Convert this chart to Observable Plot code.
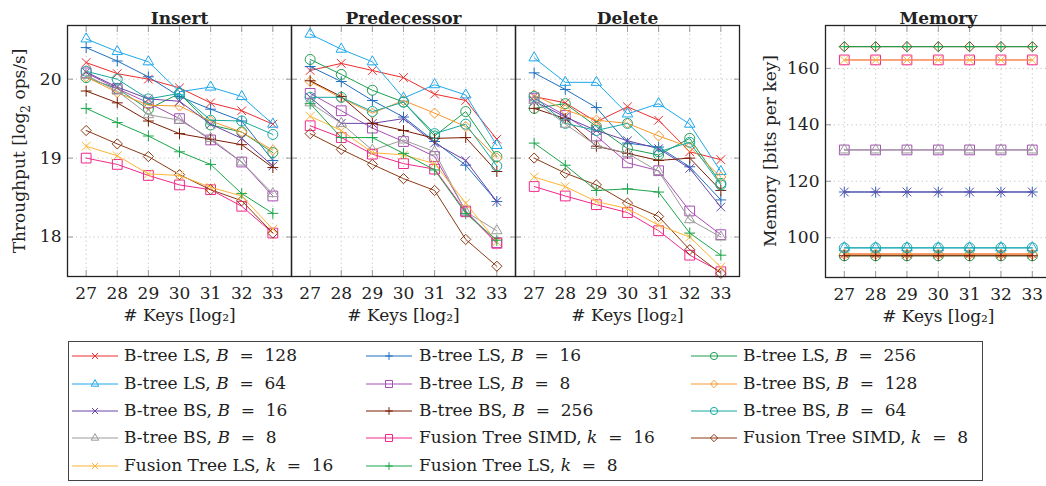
<!DOCTYPE html>
<html><head><meta charset="utf-8">
<script src="https://cdn.jsdelivr.net/npm/d3@7"></script>
<script src="https://cdn.jsdelivr.net/npm/@observablehq/plot@0.6"></script>
<style>
body{margin:0;background:#fff;}
#wrap{position:relative;width:1046px;height:486px;overflow:hidden;font-family:"DejaVu Serif",serif;color:#222;background:#fff;}
.abs{position:absolute;}
.vlab{position:absolute;white-space:nowrap;font-size:17px;transform:translate(-50%,-50%) rotate(-90deg);}
.leg{position:absolute;left:68px;top:341px;width:913px;height:138px;border:1.3px solid #444;}
.item{position:absolute;white-space:nowrap;font-size:17px;line-height:20px;}
</style></head><body><div id="wrap"></div>
<script>
const FONT = '"DejaVu Serif", serif';
const keys = [27, 28, 29, 30, 31, 32, 33];
const panels = ["Insert", "Predecessor", "Delete"];
const seriesNames = ["LS128","LS16","LS256","LS64","LS8","BS128","BS16","BS256","BS64","BS8","SIMD16","SIMD8","FTLS16","FTLS8"];
const structNames = ["B-tree LS","B-tree LS","B-tree LS","B-tree LS","B-tree LS","B-tree BS","B-tree BS","B-tree BS","B-tree BS","B-tree BS","Fusion Tree SIMD","Fusion Tree SIMD","Fusion Tree LS","Fusion Tree LS"];
const paramNames = ["B","B","B","B","B","B","B","B","B","B","k","k","k","k"];
const paramValues = [128,16,256,64,8,128,16,256,64,8,16,8,16,8];
const colors = ["#ee2d2d","#1f6fbf","#1e9e50","#1ea8ec","#a64fb5","#f7992e","#6a45a8","#7b1d05","#17a9a0","#9b9b9b","#f0288c","#8b3a16","#fdb537","#1aa64a"];
const symbols = ["times","plus","circle","triangle2","square2","diamond2","times","plus","circle","triangle2","square2","diamond2","times","plus"];
const symbolR = {times:4, plus:3.6, circle:5, triangle2:5, square2:6.2, diamond2:4.6};

// throughput [log2 ops/s], rows in series order, columns = keys
const insertThroughput = [
  [20.21,20.07,20.00,19.89,19.70,19.60,19.43],
  [20.40,20.23,20.03,19.78,19.62,19.47,18.97],
  [20.02,19.88,19.62,19.82,19.42,19.33,19.07],
  [20.51,20.35,20.22,19.84,19.90,19.78,19.43],
  [20.08,19.88,19.70,19.50,19.23,18.95,18.52],
  [20.03,19.83,19.67,19.66,19.47,19.33,19.10],
  [20.09,19.90,19.75,19.72,19.43,19.25,18.90],
  [19.85,19.70,19.47,19.31,19.24,19.17,18.88],
  [20.10,20.00,19.75,19.82,19.48,19.47,19.30],
  [20.05,19.85,19.55,19.48,19.25,18.95,18.55],
  [19.00,18.92,18.78,18.66,18.60,18.39,18.05],
  [19.35,19.18,19.02,18.79,18.60,18.46,18.05],
  [19.15,19.03,18.80,18.78,18.63,18.52,18.10],
  [19.63,19.45,19.28,19.08,18.92,18.55,18.30]
];
const predecessorThroughput = [
  [20.11,20.20,20.11,20.02,19.81,19.73,19.24],
  [20.16,19.97,19.73,19.52,19.21,18.91,18.45],
  [20.25,20.06,19.86,19.71,19.28,19.59,19.02],
  [20.57,20.38,20.22,19.76,19.93,19.80,19.16],
  [19.82,19.60,19.38,19.21,19.02,18.33,17.93],
  [19.97,19.76,19.57,19.73,19.57,19.40,19.00],
  [19.77,19.44,19.44,19.50,19.19,18.97,18.45],
  [19.98,19.78,19.44,19.35,19.25,19.26,18.83],
  [19.77,19.77,19.59,19.71,19.31,19.43,18.90],
  [19.70,19.44,19.10,19.23,19.08,18.32,18.08],
  [19.41,19.26,19.05,18.93,18.86,18.32,17.92],
  [19.31,19.11,18.92,18.74,18.59,17.97,17.63],
  [19.53,19.35,19.07,19.04,18.93,18.43,17.94],
  [19.69,19.26,19.26,19.06,18.85,18.30,17.96]
];
const deleteThroughput = [
  [19.78,19.70,19.46,19.65,19.48,19.08,18.98],
  [20.08,19.87,19.64,19.19,19.14,18.89,18.47],
  [19.63,19.69,19.40,19.12,19.04,19.25,18.68],
  [20.27,19.96,19.96,19.56,19.69,19.43,18.83],
  [19.76,19.54,19.28,18.94,18.84,18.33,18.03],
  [19.80,19.61,19.48,19.44,19.28,19.14,18.76],
  [19.72,19.52,19.35,19.22,19.12,18.87,18.38],
  [19.63,19.50,19.15,19.06,18.97,19.00,18.59],
  [19.78,19.44,19.35,19.44,19.08,19.20,18.66],
  [19.73,19.43,19.16,19.06,18.83,18.22,18.00],
  [18.64,18.52,18.41,18.31,18.08,17.77,17.56],
  [19.00,18.81,18.66,18.43,18.26,17.84,17.54],
  [18.76,18.64,18.45,18.36,18.15,18.00,17.62],
  [19.19,18.91,18.59,18.61,18.57,18.05,17.77]
];
// memory [bits per key]
const memoryBits = [
  [94.2,94.2,94.2,94.2,94.2,94.2,94.2],
  [116.2,116.2,116.2,116.2,116.2,116.2,116.2],
  [93.6,93.6,93.6,93.6,93.6,93.6,93.6],
  [96.4,96.4,96.4,96.4,96.4,96.4,96.4],
  [131.1,131.1,131.1,131.1,131.1,131.1,131.1],
  [94.2,94.2,94.2,94.2,94.2,94.2,94.2],
  [116.2,116.2,116.2,116.2,116.2,116.2,116.2],
  [93.6,93.6,93.6,93.6,93.6,93.6,93.6],
  [96.4,96.4,96.4,96.4,96.4,96.4,96.4],
  [131.1,131.1,131.1,131.1,131.1,131.1,131.1],
  [163.0,163.0,163.0,163.0,163.0,163.0,163.0],
  [167.7,167.7,167.7,167.7,167.7,167.7,167.7],
  [163.0,163.0,163.0,163.0,163.0,163.0,163.0],
  [167.7,167.7,167.7,167.7,167.7,167.7,167.7]
];
const throughputTicks = [18, 19, 20];
const memoryTicks = [100, 120, 140, 160];

const wrap = document.getElementById("wrap");
const panelData = [insertThroughput, predecessorThroughput, deleteThroughput];
const rows = [];
panels.forEach((p, pi) => seriesNames.forEach((s, si) => keys.forEach((k, ki) =>
  rows.push({panel: p, series: s, key: k, value: panelData[pi][si][ki], r: symbolR[symbols[si]]}))));
const memRows = [];
seriesNames.forEach((s, si) => keys.forEach((k, ki) =>
  memRows.push({series: s, key: k, value: memoryBits[si][ki], r: symbolR[symbols[si]]})));

const common = {
  color: {domain: seriesNames, range: colors},
  symbol: {domain: seriesNames, range: symbols},
  r: {type: "identity"}
};
const gridStyle = {stroke: "#bdbdbd", strokeOpacity: 1, strokeDasharray: "1.2,3.2", strokeWidth: 0.9};
const tickStyle = {stroke: "#999", strokeOpacity: 1, strokeWidth: 1, tickFormat: () => "", tickSize: -6, label: null};
const fmt = d3.format("d");

function seriesMarks(data, fx) {
  const out = [];
  seriesNames.forEach(s => {
    const d = data.filter(r => r.series === s);
    out.push(Plot.line(d, {fx, x: "key", y: "value", stroke: "series", strokeWidth: 1}));
    out.push(Plot.dot(d, {fx, x: "key", y: "value", stroke: "series", symbol: "series", r: "r", fill: "none", strokeWidth: 1}));
  });
  return out;
}

const tp = Plot.plot({
  width: 745, height: 340,
  marginLeft: 66, marginRight: 5, marginTop: 25, marginBottom: 64,
  style: {fontFamily: FONT, fontSize: "17px", color: "#222", background: "transparent", overflow: "visible"},
  fx: {domain: panels, padding: 0, axis: null},
  x: {domain: [26.4, 33.6]},
  y: {domain: [17.5, 20.68]},
  ...common,
  marks: [
    Plot.gridX(keys, {...gridStyle}),
    Plot.gridY(throughputTicks, {...gridStyle}),
    Plot.axisX(keys, {anchor: "bottom", ...tickStyle, facetAnchor: null}),
    Plot.axisX(keys, {anchor: "top", ...tickStyle, facetAnchor: null}),
    Plot.axisY(throughputTicks, {anchor: "left", ...tickStyle, facetAnchor: null}),
    Plot.axisY(throughputTicks, {anchor: "right", ...tickStyle, facetAnchor: null}),
    ...seriesMarks(rows, "panel"),
    Plot.frame({stroke: "#222", strokeWidth: 1.3}),
    Plot.axisX(keys, {anchor: "bottom", tickSize: 0, tickPadding: 10, label: null, fontSize: 17, tickFormat: fmt}),
    Plot.axisY(throughputTicks, {anchor: "left", tickSize: 0, tickPadding: 6, label: null, fontSize: 17, tickFormat: fmt}),
    Plot.text(panels, {fx: d => d, text: d => d, frameAnchor: "top", dy: -14, fontWeight: "bold", fontSize: 17}),
    Plot.text(panels, {fx: d => d, text: () => "# Keys [log₂]", frameAnchor: "bottom", dy: 44, fontSize: 17})
  ]
});
tp.style.position = "absolute"; tp.style.left = "0px"; tp.style.top = "0px";
wrap.appendChild(tp);

const mp = Plot.plot({
  width: 310, height: 340,
  marginLeft: 80, marginRight: 4.4, marginTop: 25, marginBottom: 63,
  style: {fontFamily: FONT, fontSize: "17px", color: "#222", background: "transparent", overflow: "visible"},
  x: {domain: [26.4, 33.6]},
  y: {domain: [85.9, 175.2]},
  ...common,
  marks: [
    Plot.gridX(keys, {...gridStyle}),
    Plot.gridY(memoryTicks, {...gridStyle}),
    Plot.axisX(keys, {anchor: "bottom", ...tickStyle}),
    Plot.axisX(keys, {anchor: "top", ...tickStyle}),
    Plot.axisY(memoryTicks, {anchor: "left", ...tickStyle}),
    ...seriesMarks(memRows, undefined),
    Plot.frame({stroke: "#222", strokeWidth: 1.3}),
    Plot.axisX(keys, {anchor: "bottom", tickSize: 0, tickPadding: 10, label: null, fontSize: 17, tickFormat: fmt}),
    Plot.axisY(memoryTicks, {anchor: "left", tickSize: 0, tickPadding: 6, label: null, fontSize: 17, tickFormat: fmt}),
    Plot.text(["Memory"], {text: d => d, frameAnchor: "top", dy: -14, fontWeight: "bold", fontSize: 17}),
    Plot.text(["# Keys [log₂]"], {text: d => d, frameAnchor: "bottom", dy: 44, fontSize: 17})
  ]
});
mp.style.position = "absolute"; mp.style.left = "745px"; mp.style.top = "0px";
wrap.appendChild(mp);

// axis titles
function vlabel(html, x, y) {
  const d = document.createElement("div");
  d.className = "vlab"; d.innerHTML = html;
  d.style.left = x + "px"; d.style.top = y + "px";
  wrap.appendChild(d);
}
vlabel("Throughput [log<sub style='font-size:12px'>2</sub> ops/s]", 21, 151);
vlabel("Memory [bits per key]", 770, 151);

// legend
const leg = document.createElement("div");
leg.className = "leg";
wrap.appendChild(leg);
const colSwatchX = [3, 297, 622];
const colTextX = [55, 350, 674];
const rowY = [14, 42, 69, 96, 124];
seriesNames.forEach((s, i) => {
  const row = Math.floor(i / 3), col = i % 3;
  const sw = d3.create("svg").attr("width", 46).attr("height", 14)
    .style("position", "absolute").style("left", colSwatchX[col] + "px").style("top", (rowY[row] - 7) + "px");
  sw.append("line").attr("x1", 0).attr("x2", 46).attr("y1", 7).attr("y2", 7).attr("stroke", colors[i]).attr("stroke-width", 1);
  const sym = {times: d3.symbolTimes, plus: d3.symbolPlus, circle: d3.symbolCircle, triangle2: d3.symbolTriangle2, square2: d3.symbolSquare2, diamond2: d3.symbolDiamond2}[symbols[i]];
  const rr = symbolR[symbols[i]] * 0.72;
  sw.append("path").attr("transform", "translate(23,7)").attr("d", d3.symbol(sym, Math.PI * rr * rr)())
    .attr("fill", "none").attr("stroke", colors[i]).attr("stroke-width", 1);
  leg.appendChild(sw.node());
  const t = document.createElement("div");
  t.className = "item";
  t.style.left = colTextX[col] + "px"; t.style.top = (rowY[row] - 11) + "px";
  t.innerHTML = `${structNames[i]}, <i>${paramNames[i]}</i>&nbsp;&nbsp;=&nbsp;&nbsp;${paramValues[i]}`;
  leg.appendChild(t);
});
</script></body></html>
